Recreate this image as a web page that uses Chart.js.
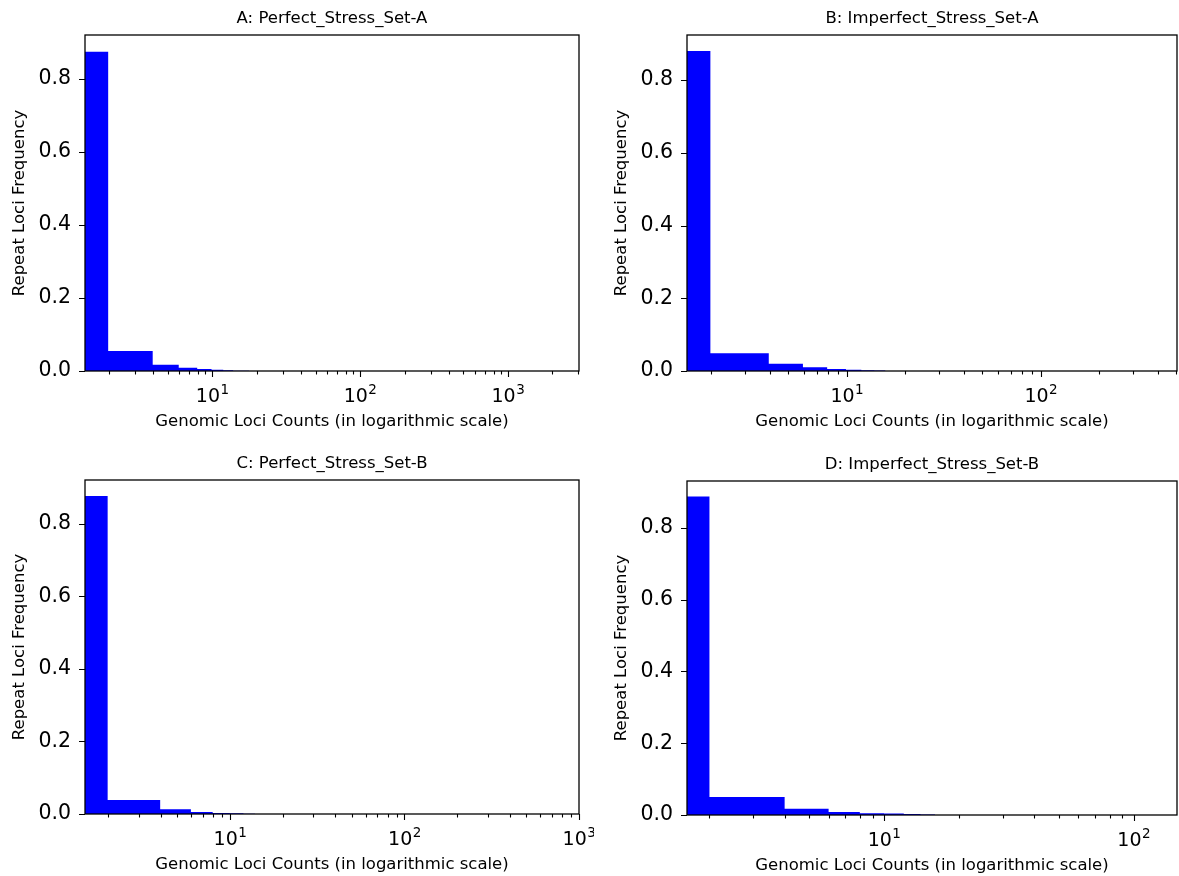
<!DOCTYPE html>
<html>
<head>
<meta charset="utf-8">
<script src="https://cdn.jsdelivr.net/npm/chart.js@4.4.0/dist/chart.umd.min.js"></script>
<style>
  html, body { margin: 0; padding: 0; background: #fff; overflow: hidden; }
  .panel { position: absolute; }
</style>
</head>
<body>
<div class="panel" id="boxA"><canvas id="chartA"></canvas></div>
<div class="panel" id="boxB"><canvas id="chartB"></canvas></div>
<div class="panel" id="boxC"><canvas id="chartC"></canvas></div>
<div class="panel" id="boxD"><canvas id="chartD"></canvas></div>
<script>
// histogram bin edges and repeat loci frequency per bin
const edgesA = [0, 1.98, 3.96, 5.94, 7.92, 9.9, 11.88, 13.86, 15.84, 17.82];
const freqA  = [0.875, 0.055, 0.0173, 0.009, 0.0052, 0.0033, 0.0018, 0.0010, 0.0006];

const edgesB = [0, 1.98, 3.96, 5.94, 7.92, 9.9, 11.88, 13.86, 15.84];
const freqB  = [0.88, 0.049, 0.020, 0.010, 0.0055, 0.0035, 0.0020, 0.0012];

const edgesC = [0, 1.99, 3.98, 5.97, 7.96, 9.95, 11.94, 13.93];
const freqC  = [0.877, 0.0387, 0.013, 0.0055, 0.0030, 0.0020, 0.0010];

const edgesD = [0, 2, 4, 6, 8, 10, 12, 14, 16];
const freqD  = [0.888, 0.0505, 0.0175, 0.0083, 0.0046, 0.0042, 0.0025, 0.0015];

const titles = ['A: Perfect_Stress_Set-A', 'B: Imperfect_Stress_Set-A',
                'C: Perfect_Stress_Set-B', 'D: Imperfect_Stress_Set-B'];
const xTitle = 'Genomic Loci Counts (in logarithmic scale)';
const yTitle = 'Repeat Loci Frequency';
const yTicks = [0, 0.2, 0.4, 0.6, 0.8];
const majorX = [10, 100, 1000];
const minorMult = [1, 2, 3, 4, 5, 6, 7, 8, 9];

const FONT = '"DejaVu Sans", sans-serif';
Chart.defaults.font.family = FONT;
Chart.defaults.color = '#000';
Chart.defaults.animation = false;

// frame around plot area, tick marks, and 10^n labels with a real superscript
const framePlugin = {
  id: 'frame',
  afterDraw(chart) {
    const {ctx, chartArea: a, scales: {x, y}} = chart;
    ctx.save();
    ctx.strokeStyle = '#000';
    ctx.lineWidth = 1.3;
    ctx.strokeRect(a.left, a.top, a.right - a.left, a.bottom - a.top);
    ctx.beginPath();
    x.ticks.forEach(t => {
      const px = Math.round(x.getPixelForValue(t.value)) + 0.5;
      const len = majorX.includes(t.value) ? 6 : 3.5;
      ctx.moveTo(px, a.bottom);
      ctx.lineTo(px, a.bottom + len);
    });
    y.ticks.forEach(t => {
      const py = Math.round(y.getPixelForValue(t.value)) + 0.5;
      ctx.moveTo(a.left, py);
      ctx.lineTo(a.left - 6, py);
    });
    ctx.lineWidth = 1.1;
    ctx.stroke();

    ctx.fillStyle = '#000';
    ctx.textBaseline = 'alphabetic';
    ctx.textAlign = 'left';
    x.ticks.filter(t => majorX.includes(t.value)).forEach(t => {
      const px = x.getPixelForValue(t.value);
      const base = '10', exp = String(Math.round(Math.log10(t.value)));
      ctx.font = '19px ' + FONT;
      const wb = ctx.measureText(base).width;
      ctx.font = '13.5px ' + FONT;
      const we = ctx.measureText(exp).width;
      const x0 = px - (wb + we) / 2;
      ctx.font = '19px ' + FONT;
      ctx.fillText(base, x0, a.bottom + 31);
      ctx.font = '13.5px ' + FONT;
      ctx.fillText(exp, x0 + wb + 0.5, a.bottom + 22.5);
    });
    ctx.restore();
  }
};

function makePanel(id, box, plot, edges, freq, xMin, xMax, yMax, title) {
  // plot = [left, top, right, bottom] of the axes box on the page
  const yW = 85, topH = 35, xH = 67;
  const el = document.getElementById(box);
  const left = plot[0] - yW, top = plot[1] - topH;
  const width = Math.min(1179 - left, plot[2] - left + 15);
  const height = plot[3] - plot[1] + topH + xH;
  el.style.left = left + 'px';
  el.style.top = top + 'px';
  el.style.width = width + 'px';
  el.style.height = height + 'px';

  const pts = edges.slice(0, freq.length).map((e, i) => ({x: Math.max(e, xMin), y: freq[i]}));
  pts.push({x: edges[freq.length], y: 0});

  new Chart(document.getElementById(id), {
    type: 'line',
    data: {
      datasets: [{
        data: pts,
        stepped: true,
        fill: 'origin',
        backgroundColor: '#0000ff',
        borderWidth: 0,
        borderColor: 'rgba(0,0,0,0)',
        pointRadius: 0
      }]
    },
    options: {
      responsive: true,
      maintainAspectRatio: false,
      layout: {padding: {left: 0, top: 0, bottom: 0, right: width - (plot[2] - left)}},
      plugins: {
        legend: {display: false},
        tooltip: {enabled: false},
        title: {
          display: true,
          fullSize: false,
          text: title,
          color: '#000',
          font: {size: 16.5, weight: 'normal'},
          padding: {top: 8.9, bottom: 6.3}
        }
      },
      scales: {
        x: {
          type: 'logarithmic',
          min: xMin,
          max: xMax,
          bounds: 'data',
          grid: {display: false, drawTicks: false},
          border: {display: false},
          afterBuildTicks(scale) {
            const ticks = [];
            for (let k = 0; k <= 3; k++) {
              minorMult.forEach(m => {
                const v = m * Math.pow(10, k);
                if (v >= xMin && v <= xMax) ticks.push({value: v, major: m === 1});
              });
            }
            scale.ticks = ticks;
          },
          afterFit(scale) { scale.height = xH; },
          ticks: {display: false, autoSkip: false},
          title: {
            display: true,
            text: xTitle,
            font: {size: 16.5},
            padding: {top: 0, bottom: 6.1}
          }
        },
        y: {
          type: 'linear',
          min: 0,
          max: yMax,
          bounds: 'data',
          grid: {display: false, drawTicks: false},
          border: {display: false},
          afterBuildTicks(scale) { scale.ticks = yTicks.map(v => ({value: v})); },
          afterFit(scale) { scale.width = yW; },
          ticks: {
            padding: 14,
            font: {size: 20.5},
            callback: v => v.toFixed(1)
          },
          title: {
            display: true,
            text: yTitle,
            font: {size: 16.5},
            padding: {top: 10.1, bottom: 0}
          }
        }
      }
    },
    plugins: [framePlugin]
  });
}

makePanel('chartA', 'boxA', [85, 35, 579, 371], edgesA, freqA, 1.38, 3025, 0.921, titles[0]);
makePanel('chartB', 'boxB', [687, 35, 1177, 371], edgesB, freqB, 1.50, 504, 0.924, titles[1]);
makePanel('chartC', 'boxC', [85, 480, 579, 814], edgesC, freqC, 1.476, 1000, 0.921, titles[2]);
makePanel('chartD', 'boxD', [687, 481, 1177, 815], edgesD, freqD, 1.626, 149, 0.931, titles[3]);
</script>
</body>
</html>
